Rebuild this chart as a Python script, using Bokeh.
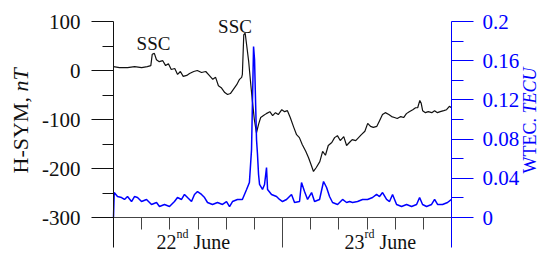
import math
from bokeh.plotting import figure
from bokeh.models import (Range1d, LinearAxis, FixedTicker, PrintfTickFormatter,
                          Label)
from bokeh.embed import file_html
from bokeh.resources import INLINE

# ---------------- data ----------------
hsym_hours = [0.0, 0.85, 2.0, 3.0, 4.0, 4.8, 5.3, 5.5, 5.8, 6.1, 6.5, 7.0, 7.4, 7.8,
              8.2, 8.7, 9.1, 9.5, 9.9, 10.4, 10.8, 11.4, 11.9, 12.5, 13.1, 13.6,
              14.1, 14.5, 14.9, 15.3, 15.8, 16.2, 16.6, 17.0, 17.5, 17.9, 18.2,
              18.3, 18.5, 18.7, 18.9, 19.2, 19.5, 19.7, 20.0, 20.3, 20.6, 20.9,
              21.3, 21.7, 22.2, 22.6, 23.0, 23.4, 23.9, 24.3, 24.7, 25.1, 25.6,
              26.0, 26.4, 26.8, 27.3, 27.7, 28.1, 28.4, 28.8, 29.3, 29.7, 30.1,
              30.5, 31.0, 31.4, 31.8, 32.2, 32.7, 33.1, 33.5, 33.9, 34.4, 34.8,
              35.2, 35.7, 36.1, 36.5, 36.9, 37.4, 37.8, 38.2, 38.6, 39.1, 39.5,
              39.9, 40.3, 40.8, 41.2, 41.6, 42.0, 42.5, 42.9, 43.2, 43.5, 43.7,
              43.9, 44.3, 44.7, 45.2, 45.6, 46.0, 46.4, 46.9, 47.3, 47.7, 48.0]
hsym_nT = [8, 6, 6, 8, 6, 8, 10, 33, 35, 22, 18, 20, 10, 14,
           2, 4, -8, -2, -12, -10, -6, -2, 0, -4, -2, -10,
           -18, -14, -31, -35, -45, -49, -47, -39, -29, -18, -14,
           -8, 73, 76, 53, 18, -29, -59, -100, -127, -110, -96,
           -92, -88, -84, -92, -86, -90, -80, -84, -82, -96, -116,
           -131, -137, -151, -165, -178, -194, -206, -198, -186, -165, -173,
           -153, -147, -137, -133, -143, -135, -153, -147, -141, -143, -137,
           -131, -124, -108, -114, -116, -114, -102, -90, -86, -90, -94,
           -96, -98, -94, -96, -88, -84, -80, -76, -76, -61, -67,
           -82, -86, -84, -86, -82, -86, -84, -82, -80, -73, -76]

wtec_hours = [0.0, 0.1, 0.57, 1.14, 1.56, 1.99, 2.56, 2.98, 3.41, 3.98, 4.69, 5.40,
              6.11, 6.53, 7.24, 7.95, 8.66, 9.09, 9.66, 10.08, 10.51, 11.08, 11.5,
              11.93, 12.5, 12.93, 13.35, 14.06, 14.77, 15.48, 16.05, 16.48, 16.9,
              17.6, 18.3, 18.9, 19.3, 19.6, 19.74, 19.89, 20.03, 20.17, 20.31,
              20.45, 20.6, 20.74, 21.16, 21.45, 21.73, 21.88, 22.44, 23.15, 23.58,
              24.0, 24.57, 25.28, 25.71, 26.42, 26.7, 27.13, 27.56, 28.13, 28.55,
              29.26, 29.83, 30.26, 30.68, 31.11, 31.82, 32.53, 33.1, 33.52, 33.95,
              34.66, 35.37, 36.08, 36.79, 37.36, 37.78, 38.21, 38.78, 39.2, 39.63,
              40.2, 40.91, 41.62, 42.33, 43.04, 43.47, 43.89, 44.46, 45.17, 45.6,
              46.02, 46.73, 47.44, 48.0]
wtec_tecu = [0.0, 0.0255, 0.0214, 0.0204, 0.0184, 0.0214, 0.0163, 0.0214, 0.0204,
             0.0163, 0.0184, 0.0133, 0.0153, 0.0112, 0.0133, 0.0112, 0.0163, 0.0204,
             0.0184, 0.0235, 0.0204, 0.0163, 0.0235, 0.0265, 0.0235, 0.0204, 0.0153,
             0.0133, 0.0153, 0.0133, 0.0163, 0.0112, 0.0163, 0.0184, 0.0184, 0.0286,
             0.0357, 0.069, 0.120, 0.1745, 0.161, 0.120, 0.0796, 0.0643, 0.0439,
             0.0337, 0.0286, 0.0337, 0.051, 0.0286, 0.0235, 0.0214, 0.0184, 0.0163,
             0.0184, 0.0235, 0.0153, 0.0163, 0.0357, 0.0265, 0.0184, 0.0255, 0.0163,
             0.0184, 0.0367, 0.0306, 0.0214, 0.0153, 0.0133, 0.0184, 0.0153, 0.0163,
             0.0153, 0.0163, 0.0184, 0.0184, 0.0204, 0.0235, 0.0214, 0.0255, 0.0184,
             0.0163, 0.0235, 0.0133, 0.0112, 0.0133, 0.0112, 0.0133, 0.0204, 0.0133,
             0.0112, 0.0133, 0.0184, 0.0133, 0.0133, 0.0153, 0.0184]

left_ticks = [-300, -200, -100, 0, 100]
left_minor = [-250, -150, -50, 50]
right_ticks = [0, 0.04, 0.08, 0.12, 0.16, 0.2]
right_minor = [0.02, 0.06, 0.1, 0.14, 0.18]
x_ticks = [0, 4, 8, 12, 16, 20, 24, 28, 32, 36, 40, 44, 48]
day_ticks = [24]

# ---------------- geometry (pixel <-> data) ----------------
ORIGIN = 1            # canvas offset observed on the page
FIG_W, FIG_H = 548, 253
X0_PX, PX_PER_H = 114, 338 / 48      # 0 h at x=114 px
Y0_PX, PX_PER_NT = 71, 0.49          # 0 nT at y=71 px
AXIS_BOTTOM_PX = 248                 # axis lines run down to here
W_SCALE = 0.2 / 400                  # TECU per nT


def px_to_h(px):
    return (px - X0_PX) / PX_PER_H


def py_to_nt(py):
    return (Y0_PX - py) / PX_PER_NT


def nt_to_w(v):
    return (v + 300) * W_SCALE


X_START, X_END = px_to_h(ORIGIN), px_to_h(ORIGIN + FIG_W)
Y_TOP, Y_BOT = py_to_nt(ORIGIN), py_to_nt(ORIGIN + FIG_H)
AX_BOT = py_to_nt(AXIS_BOTTOM_PX)

FONT = "Liberation Serif"
BLUE = "#0000ff"
INK = "#111111"

p = figure(width=FIG_W, height=FIG_H, x_range=Range1d(X_START, X_END),
           y_range=Range1d(Y_BOT, Y_TOP),
           x_axis_location=None, y_axis_location=None,
           output_backend="svg", toolbar_location=None,
           min_border=0, min_border_left=0, min_border_right=0,
           min_border_top=0, min_border_bottom=0)
p.outline_line_color = None
p.grid.visible = False
p.background_fill_color = "white"
p.border_fill_color = "white"
p.extra_y_ranges = {"wtec": Range1d(nt_to_w(Y_BOT), nt_to_w(Y_TOP))}

# left axis (H-SYM)
la = LinearAxis(fixed_location=0, bounds=(AX_BOT, 100),
                ticker=FixedTicker(ticks=left_ticks, minor_ticks=left_minor),
                formatter=PrintfTickFormatter(format="%g"))
la.major_tick_in = 0
la.major_tick_out = 22
la.minor_tick_in = 0
la.minor_tick_out = 11
la.major_label_standoff = 11
la.axis_line_color = INK
la.major_tick_line_color = INK
la.minor_tick_line_color = INK
la.major_label_text_font = FONT
la.major_label_text_font_size = "21px"
la.major_label_text_color = INK
p.add_layout(la, "left")

# right axis (WTEC)
ra = LinearAxis(y_range_name="wtec", fixed_location=48,
                bounds=(nt_to_w(AX_BOT), 0.2),
                ticker=FixedTicker(ticks=right_ticks, minor_ticks=right_minor),
                formatter=PrintfTickFormatter(format="%g"))
ra.major_tick_in = 0
ra.major_tick_out = 22
ra.minor_tick_in = 0
ra.minor_tick_out = 12
ra.major_label_standoff = 9
ra.axis_line_color = BLUE
ra.major_tick_line_color = BLUE
ra.minor_tick_line_color = BLUE
ra.major_label_text_font = FONT
ra.major_label_text_font_size = "21px"
ra.major_label_text_color = BLUE
p.add_layout(ra, "right")

# time axis at -300 nT with 4-hour ticks
xa = LinearAxis(fixed_location=-300, bounds=(0, 48),
                ticker=FixedTicker(ticks=x_ticks))
xa.major_tick_in = 0
xa.major_tick_out = 12
xa.axis_line_color = "#444444"
xa.major_tick_line_color = "#444444"
xa.major_label_text_color = None
p.add_layout(xa, "below")

# longer tick at the day boundary
da = LinearAxis(fixed_location=-300, bounds=(0, 48),
                ticker=FixedTicker(ticks=day_ticks))
da.major_tick_in = 0
da.major_tick_out = AXIS_BOTTOM_PX - 218
da.axis_line_color = None
da.major_tick_line_color = "#444444"
da.major_label_text_color = None
p.add_layout(da, "below")

# series
p.line(hsym_hours, hsym_nT, line_color=INK, line_width=1.2)
p.line(wtec_hours, wtec_tecu, y_range_name="wtec", line_color=BLUE, line_width=1.5)


def add_label(x, y, text, size, color=INK, style="normal", angle=0,
              align="left", baseline="alphabetic"):
    p.add_layout(Label(x=x, y=y, text=text, text_font=FONT,
                       text_font_size=size, text_color=color,
                       text_font_style=style, angle=angle,
                       text_align=align, text_baseline=baseline))


# SSC annotations
add_label(px_to_h(154), py_to_nt(44), "SSC", "19px", align="center")
add_label(px_to_h(235.5), py_to_nt(27), "SSC", "19px", align="center")

# date labels with superscripts
add_label(px_to_h(157), py_to_nt(242), "22", "20px")
add_label(px_to_h(177), py_to_nt(234), "nd", "12px")
add_label(px_to_h(189), py_to_nt(242), "\u00a0June", "20px")
add_label(px_to_h(345), py_to_nt(242), "23", "20px")
add_label(px_to_h(365), py_to_nt(234), "rd", "12px")
add_label(px_to_h(375), py_to_nt(242), "\u00a0June", "20px")

# axis titles (rotated)
add_label(px_to_h(21), py_to_nt(174), "H-SYM,\u00a0", "22px",
          angle=math.pi / 2, baseline="middle")
add_label(px_to_h(21), py_to_nt(92), "nT", "22px", style="italic",
          angle=math.pi / 2, baseline="middle")
add_label(px_to_h(530), py_to_nt(174), "WTEC.\u00a0", "18px", color=BLUE,
          angle=math.pi / 2, baseline="middle")
add_label(px_to_h(530), py_to_nt(114), "TECU", "18px", color=BLUE,
          style="italic", angle=math.pi / 2, baseline="middle")

open("out.html", "w").write(file_html(p, INLINE))
